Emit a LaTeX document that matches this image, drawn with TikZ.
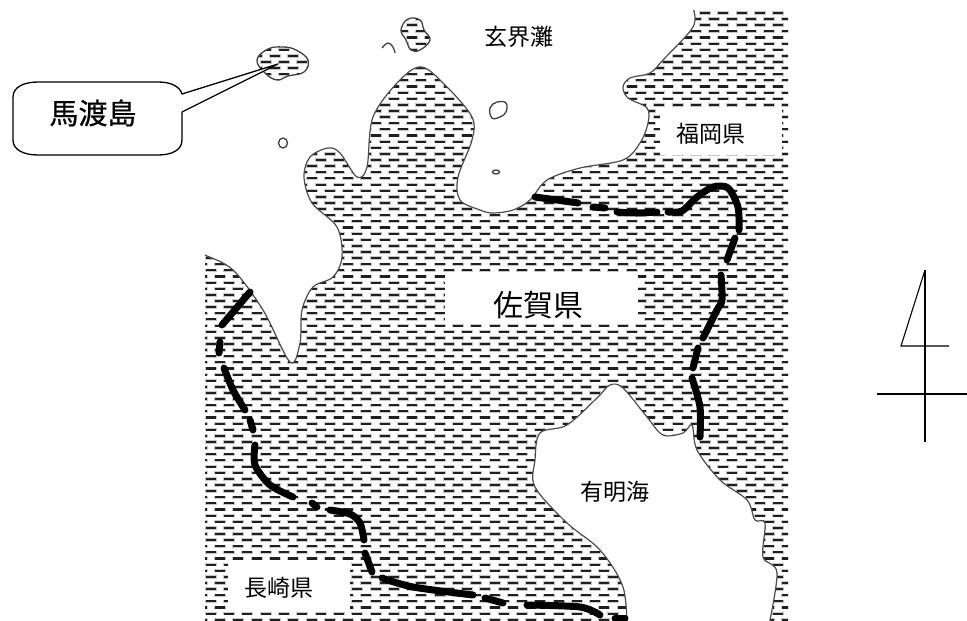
\documentclass[tikz,border=0pt]{standalone}
\usepackage{fontspec}
\newfontfamily\cjk{Noto Sans CJK JP}
\newfontfamily\cjkb[FakeBold=0.7]{Noto Sans CJK JP}
\newcommand{\hatchrows}[1]{%
 \foreach \i [evaluate=\i as \yy using 12.93+6.13*\i, evaluate=\i as \xx using {187.55+9.15*mod(\i,2)}] in {0,...,#1}{
  \draw[hatchhalo] (\xx-1,\yy) -- (800,\yy);
  \draw[hatchline] (\xx,\yy) -- (800,\yy);
 }}
\tikzset{
  hatchline/.style={line width=2.1pt,color=black!88,dash pattern=on 10pt off 8.3pt},
  hatchhalo/.style={line width=3.4pt,color=black!22,dash pattern=on 12pt off 6.3pt},
  coast/.style={line width=1.2pt,draw=black!70,fill=white},
  island/.style={line width=1.3pt,color=black!75},
  border/.style={line width=7pt,color=black,line cap=round,line join=round},
  maptext/.style={font=\cjk\fontsize{23}{23}\selectfont,inner sep=0pt},
  bigtext/.style={font=\cjk\fontsize{30}{30}\selectfont,inner sep=0pt},
  calltext/.style={font=\cjkb\fontsize{29}{29}\selectfont,inner sep=0pt},
  northline/.style={line width=1.1pt,color=black}
}
\begin{document}
\begin{tikzpicture}[x=1pt,y=-1pt]
\useasboundingbox (0,0) rectangle (967,621);
% hatching
\begin{scope}
\clip (205,10) rectangle (788,621);
\hatchrows{99}
% north sea
\path[coast] plot[smooth,tension=0.55] coordinates {
 (693,8) (693,27) (663,60) (650,73) (630,78) (623,87) (628,98) (647,108) (648,123) (640,143) (623,160) (580,168) (547,180) (530,200) (513,210) (493,213) (480,210) (460,200) (458,177) (472,140) (472,117) (447,87) (422,67) (400,80) (373,117) (367,167) (357,177) (340,153) (328,148) (310,157) (304,177) (312,203) (337,227) (342,257) (333,277) (313,287) (302,310) (300,343) (290,362) (263,310) (233,270) (205,255) (195,250)}
 -- (195,0) -- (693,0) -- cycle;
% Ariake sea
\path[coast] plot[smooth,tension=0.55] coordinates {
 (627,630) (623,587) (600,550) (567,523) (535,487) (535,460) (540,433) (567,425) (597,398) (610,385) (623,388) (647,417) (663,435) (683,433) (692,425) (697,450) (720,480) (747,500) (755,520) (765,523) (763,557) (777,573) (768,630)} -- cycle;
\end{scope}
% white label boxes
\fill[white] (660,107) rectangle (782,155);
\fill[white] (445,273) rectangle (638,324);
\fill[white] (228,562) rectangle (350,612);
% islands
\begin{scope}
\clip plot[smooth cycle,tension=0.7] coordinates {(257,60) (268,49) (283,47) (296,50) (308,60) (304,72) (288,76) (277,80) (265,73)};
\hatchrows{12}
\end{scope}
\draw[island] plot[smooth cycle,tension=0.7] coordinates {(257,60) (268,49) (283,47) (296,50) (308,60) (304,72) (288,76) (277,80) (265,73)};
\begin{scope}
\clip plot[smooth cycle,tension=0.7] coordinates {(401,30) (408,19) (420,20) (424,30) (430,40) (420,50) (411,50) (406,40)};
\hatchrows{8}
\end{scope}
\draw[island] plot[smooth cycle,tension=0.7] coordinates {(401,30) (408,19) (420,20) (424,30) (430,40) (420,50) (411,50) (406,40)};
\draw[island] plot[smooth,tension=0.7] coordinates {(382,48) (388,43) (393,47) (395,53)};
\draw[island] (283,143) ellipse [x radius=4.5,y radius=5];
\draw[island] plot[smooth cycle,tension=0.7] coordinates {(490,108) (497,102) (506,103) (506,112) (500,117) (492,118)};
\draw[island] (496,172) ellipse [x radius=3.5,y radius=2];
% prefecture border
\foreach \s in {
 {(535,197) (557,200) (578,203)},
 {(593,207) (605,208)},
 {(617,212) (637,213) (657,212)},
 {(668,212) (682,211) (697,197) (713,187) (728,188) (738,207) (739,230)},
 {(735,238) (727,260)},
 {(721,275) (722,300) (717,310) (703,338)},
 {(698,348) (693,368)},
 {(692,378) (700,407) (700,437)},
 {(250,292) (222,325)},
 {(220,342) (219,353)},
 {(224,368) (233,390) (245,410)},
 {(250,420) (253,430)},
 {(255,445) (255,465) (270,485) (293,497)},
 {(312,503) (317,507)},
 {(330,510) (350,514) (360,523) (364,540)},
 {(365,553) (372,572)},
 {(382,578) (413,587) (473,595)},
 {(485,598) (503,603)},
 {(527,605) (580,607) (600,615)},
 {(615,618) (625,618)}}
 { \draw[border] plot[smooth,tension=0.5] coordinates \s; }
% callout
\coordinate (tip) at (278,64);
\draw[line width=1.3pt,fill=white,line join=round]
 (182,94) -- (tip) -- (182,112) -- (182,140)
 .. controls (182,150) and (172,155) .. (158,155) -- (38,155)
 .. controls (24,155) and (13,150) .. (13,140) -- (13,97)
 .. controls (13,87) and (24,82) .. (38,82) -- (158,82)
 .. controls (172,82) and (180,87) .. (182,94) -- cycle;
\node[calltext] (umadashima) at (93,113) {馬渡島};
% labels
\node[maptext] (genkai) at (519,37) {玄界灘};
\node[maptext] (fukuoka) at (711,134) {福岡県};
\node[bigtext] (saga) at (538,305) {佐賀県};
\node[maptext] (ariake) at (615,492) {有明海};
\node[maptext] (nagasaki) at (279,588) {長崎県};
% north mark
\draw[northline,line join=miter] (925,270) -- (901,346) -- (949,346);
\draw[northline] (925,270) -- (925,442);
\draw[northline] (877,394) -- (967,394);
\end{tikzpicture}
\end{document}
